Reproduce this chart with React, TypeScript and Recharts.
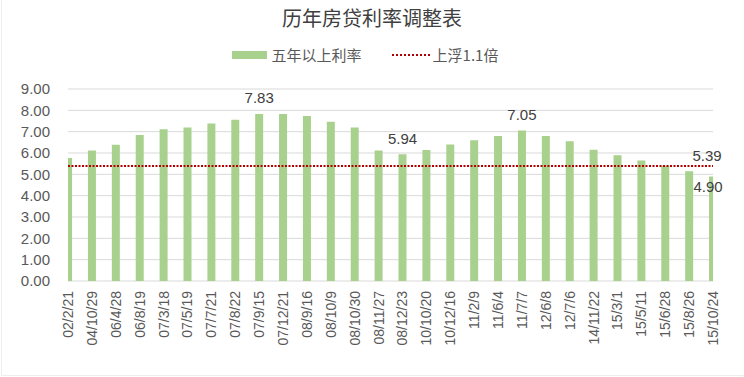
import React from 'react';
import { ComposedChart, Bar, Line, XAxis, YAxis, CartesianGrid, LabelList } from 'recharts';

const dates = [
  '02/2/21', '04/10/29', '06/4/28', '06/8/19', '07/3/18', '07/5/19', '07/7/21',
  '07/8/22', '07/9/15', '07/12/21', '08/9/16', '08/10/9', '08/10/30', '08/11/27',
  '08/12/23', '10/10/20', '10/12/16', '11/2/9', '11/6/4', '11/7/7', '12/6/8',
  '12/7/6', '14/11/22', '15/3/1', '15/5/11', '15/6/28', '15/8/26', '15/10/24',
];
const rates = [
  5.76, 6.12, 6.39, 6.84, 7.11, 7.2, 7.38, 7.56, 7.83, 7.83, 7.74, 7.47, 7.2, 6.12,
  5.94, 6.14, 6.4, 6.6, 6.8, 7.05, 6.8, 6.55, 6.15, 5.9, 5.65, 5.4, 5.15, 4.9,
];
const upperLimit = [
  5.39, 5.39, 5.39, 5.39, 5.39, 5.39, 5.39, 5.39, 5.39, 5.39, 5.39, 5.39, 5.39, 5.39,
  5.39, 5.39, 5.39, 5.39, 5.39, 5.39, 5.39, 5.39, 5.39, 5.39, 5.39, 5.39, 5.39, 5.39,
];
const labelledBars = [8, 14, 19, 27];
const yTicks = [0, 1, 2, 3, 4, 5, 6, 7, 8, 9];
const title = '历年房贷利率调整表';
const barName = '五年以上利率';
const lineName = '上浮1.1倍';

const data = dates.map((d, i) => ({ date: d, rate: rates[i], limit: upperLimit[i] }));

const FONT = '"Liberation Sans", "Noto Sans CJK SC", sans-serif';
const CJK = '"Noto Sans CJK SC", sans-serif';
const TEXT = '#595959';
const GREEN = '#A9D18E';
const RED = '#B00000';

const XTick = (props: any) => {
  const { x, y, payload } = props;
  return (
    <text
      x={x}
      y={y}
      transform={`rotate(-90, ${x}, ${y})`}
      textAnchor="end"
      dominantBaseline="central"
      fontSize={14}
      fontFamily={FONT}
      fill={TEXT}
    >
      {payload.value}
    </text>
  );
};

const BarLabel = (props: any) => {
  const { x, y, width, value, index } = props;
  if (!labelledBars.includes(index)) return null;
  const cx = x + width / 2;
  const last = index === dates.length - 1;
  return (
    <text
      x={last ? cx - 5 : cx}
      y={last ? y + 10 : y - 16}
      textAnchor="middle"
      dominantBaseline="central"
      fontSize={15}
      fontFamily={FONT}
      fill="#404040"
    >
      {Number(value).toFixed(2)}
    </text>
  );
};

const LineLabel = (props: any) => {
  const { x, y, value, index } = props;
  if (index !== dates.length - 1) return null;
  return (
    <text x={x - 6} y={y - 11} textAnchor="middle" dominantBaseline="central" fontSize={15} fontFamily={FONT} fill="#404040">
      {Number(value).toFixed(2)}
    </text>
  );
};

export default function App() {
  return (
    <div style={{ position: 'absolute', left: 0, top: 0, width: 744, height: 377, background: '#fff' }}>
      <div
        style={{
          position: 'absolute', left: 0, top: 4, width: 744, textAlign: 'center',
          fontFamily: CJK, fontSize: 20, color: '#404040', lineHeight: '28px',
        }}
      >
        {title}
      </div>
      <div
        style={{
          position: 'absolute', left: 0, top: 44, width: 744, display: 'flex', justifyContent: 'center',
          alignItems: 'center', fontFamily: CJK, fontSize: 15, color: TEXT, lineHeight: '22px',
        }}
      >
        <span style={{ display: 'inline-block', width: 35, height: 8, background: GREEN, marginRight: 5, marginLeft: -14 }} />
        <span>{barName}</span>
        <span style={{ display: 'inline-block', width: 38, borderTop: `2px dotted ${RED}`, marginLeft: 30, marginRight: 3 }} />
        <span>{lineName}</span>
      </div>
      <div
        style={{
          position: 'absolute', left: 1, top: 0, width: 743, height: 376, boxSizing: 'border-box',
          borderLeft: '1px solid #EDEDED', borderBottom: '1px solid #EDEDED', pointerEvents: 'none',
        }}
      />
      <ComposedChart width={744} height={377} data={data} margin={{ top: 89, right: 31, bottom: 20, left: 8 }}>
        <CartesianGrid vertical={false} stroke="#D9D9D9" />
        <XAxis
          dataKey="date"
          scale="point"
          interval={0}
          axisLine={false}
          tickLine={false}
          tick={<XTick />}
          tickMargin={4}
          height={76}
          allowDataOverflow
        />
        <YAxis
          domain={[0, 9]}
          ticks={yTicks}
          interval={0}
          axisLine={false}
          tickLine={false}
          width={60}
          tickMargin={12}
          tickFormatter={(v: number) => v.toFixed(2)}
          tick={{ fontSize: 15, fontFamily: FONT, fill: TEXT }}
          allowDataOverflow
        />
        <Bar dataKey="rate" name={barName} fill={GREEN} barSize={8} isAnimationActive={false}>
          <LabelList dataKey="rate" content={<BarLabel />} />
        </Bar>
        <Line
          dataKey="limit"
          name={lineName}
          stroke={RED}
          strokeWidth={2}
          strokeDasharray="2 1.5"
          dot={false}
          isAnimationActive={false}
        >
          <LabelList dataKey="limit" content={<LineLabel />} />
        </Line>
      </ComposedChart>
    </div>
  );
}
